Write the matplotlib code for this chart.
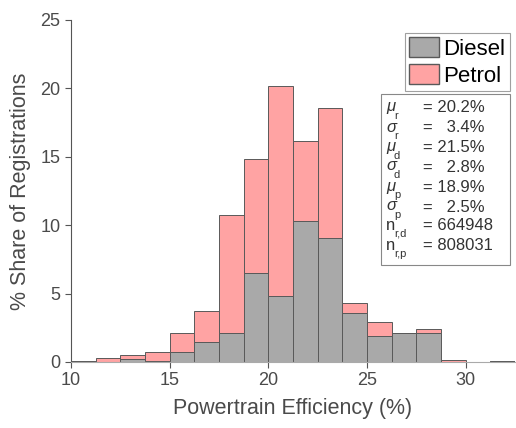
import matplotlib
matplotlib.use("Agg")
import matplotlib.pyplot as plt
import numpy as np
from matplotlib.patches import Patch, Rectangle

plt.rcParams['font.family'] = ['Liberation Sans', 'DejaVu Sans']

bin_edges = [10, 11.25, 12.5, 13.75, 15, 16.25, 17.5, 18.75, 20, 21.25, 22.5,
             23.75, 25, 26.25, 27.5, 28.75, 30, 31.25, 32.5]
diesel = [0.04, 0.0, 0.20, 0.05, 0.71, 1.44, 2.15, 6.49, 4.83, 10.29, 9.10,
          3.61, 1.93, 2.15, 2.15, 0.0, 0.0, 0.04]
petrol = [0.0, 0.29, 0.29, 0.68, 1.41, 2.32, 8.58, 8.34, 15.37, 5.88, 9.44,
          0.68, 1.02, 0.0, 0.29, 0.15, 0.0, 0.0]

stats_labels = [("\u03bc", "r"), ("\u03c3", "r"), ("\u03bc", "d"), ("\u03c3", "d"),
                ("\u03bc", "p"), ("\u03c3", "p"), ("n", "r,d"), ("n", "r,p")]
stats_values = ["= 20.2%", "=   3.4%", "= 21.5%", "=   2.8%",
                "= 18.9%", "=   2.5%", "= 664948", "= 808031"]

W, H = 516, 428
fig = plt.figure(figsize=(W / 100, H / 100), dpi=100)
ax = fig.add_axes([71 / W, (H - 362) / H, (515 - 71) / W, 342 / H])

edges = np.array(bin_edges)
lefts = edges[:-1]
widths = np.diff(edges)
d = np.array(diesel)
p = np.array(petrol)

edge_col = '#595959'
ax.bar(lefts, d, width=widths, align='edge', color='#a9a9a9',
       edgecolor=edge_col, linewidth=0.7, zorder=2)
ax.bar(lefts, p, width=widths, bottom=d, align='edge', color='#ffa3a3',
       edgecolor=edge_col, linewidth=0.7, zorder=2)

ax.set_xlim(10, 32.5)
ax.set_ylim(0, 25)
ax.set_xticks([10, 15, 20, 25, 30])
ax.set_yticks([0, 5, 10, 15, 20, 25])
ax.tick_params(direction='out', length=4, colors='#555555', labelsize=13,
               labelcolor='#4a4a4a', width=0.8)
ax.spines['top'].set_visible(False)
ax.spines['right'].set_visible(False)
ax.spines['left'].set_color('#555555')
ax.spines['bottom'].set_color('#aaaaaa')
ax.set_xlabel("Powertrain Efficiency (%)", fontsize=15.5, color='#4a4a4a', labelpad=6)
ax.set_ylabel("% Share of Registrations", fontsize=15.5, color='#4a4a4a', labelpad=7)

handles = [Patch(facecolor='#a9a9a9', edgecolor=edge_col, label='Diesel'),
           Patch(facecolor='#ffa3a3', edgecolor=edge_col, label='Petrol')]
leg = ax.legend(handles=handles, loc='upper right', bbox_to_anchor=(1.0 - 5 / 444, 1 - 13 / 342),
                fontsize=16, frameon=True, fancybox=False, edgecolor='#888888',
                handlelength=1.35, handleheight=1.0, handletextpad=0.2,
                borderpad=0.2, labelspacing=0.2, borderaxespad=0.0)
leg.get_frame().set_linewidth(0.8)


def fx(x):
    return x / W


def fy(y):
    return 1 - y / H


fig.patches.append(Rectangle((fx(380.5), fy(265)), (509.5 - 380.5) / W, (265 - 94.5) / H,
                             transform=fig.transFigure, facecolor='white',
                             edgecolor='#888888', linewidth=0.8, zorder=5))
ys = [108, 128, 148, 167, 187, 207, 226, 246]
for (sym, sub), val, y in zip(stats_labels, stats_values, ys):
    style = 'italic' if sym != 'n' else 'normal'
    fig.text(fx(386), fy(y - 1), sym, fontsize=12, fontstyle=style, color='#333333',
             ha='left', va='center', zorder=6)
    fig.text(fx(394), fy(y + 8), sub, fontsize=8, color='#333333',
             ha='left', va='center', zorder=6)
    fig.text(fx(423), fy(y), val, fontsize=12, color='#333333',
             ha='left', va='center', zorder=6)

fig.savefig("out.png", dpi=100)
